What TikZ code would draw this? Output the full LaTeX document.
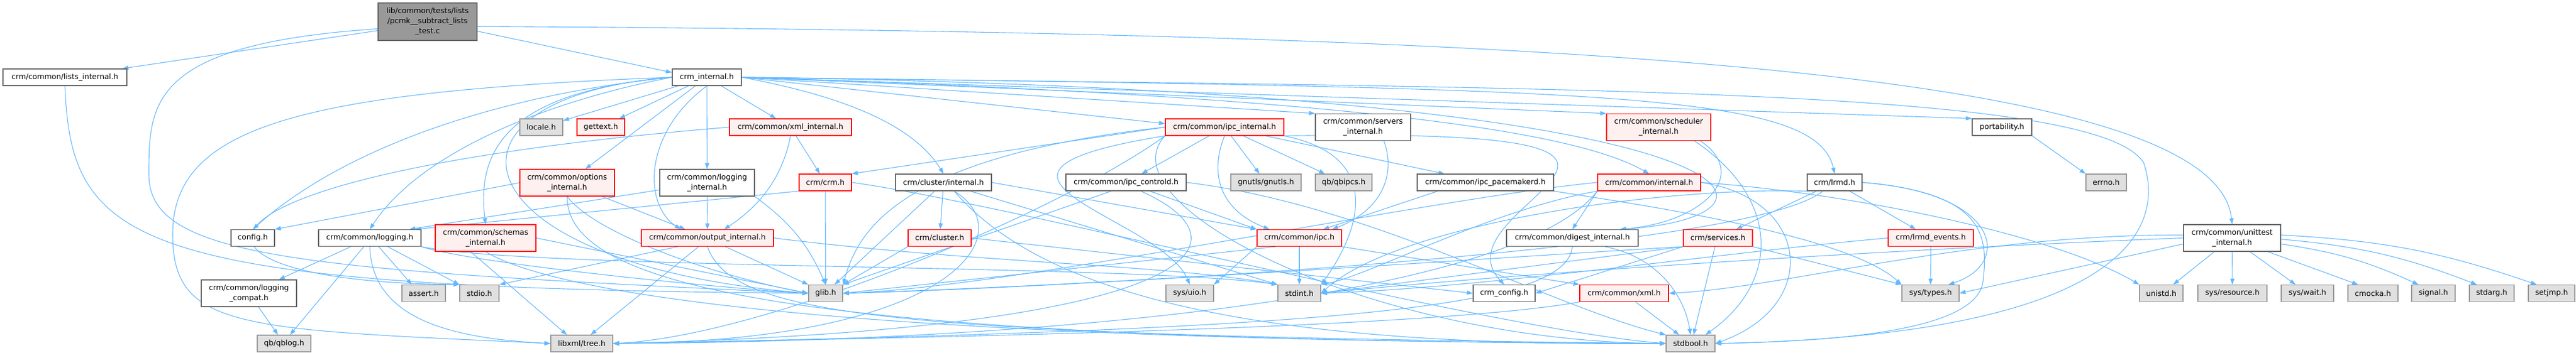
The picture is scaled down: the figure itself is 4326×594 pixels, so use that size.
\documentclass[tikz,border=0pt]{standalone}
\usepackage{fontspec}
\setmainfont{DejaVu Sans}
\usepackage{xcolor}
\usetikzlibrary{arrows.meta,backgrounds}

\definecolor{edgeblue}{HTML}{63B8FF}
\definecolor{redfill}{HTML}{FFF0F0}
\definecolor{extfill}{HTML}{E0E0E0}
\definecolor{extline}{HTML}{999999}
\definecolor{nodeline}{HTML}{666666}

\begin{document}
\begin{tikzpicture}[x=1pt,y=1pt]
    \tikzstyle{N}=[rectangle,draw,line width=1.2pt,inner sep=0pt,minimum height=28pt,align=center,font=\fontsize{12.6}{17}\selectfont]
    \tikzstyle{W}=[N,draw=nodeline,fill=white]
    \tikzstyle{R}=[N,draw=red,fill=redfill]
    \tikzstyle{E}=[N,draw=extline,fill=extfill]
    \tikzstyle{G}=[N,draw=nodeline,fill=extline,minimum height=63pt]
    \tikzstyle{L2}=[minimum height=45pt]
    \tikzstyle{A}=[draw=edgeblue,line width=1.1pt,-{Triangle[length=10pt,width=7pt]}]

    \path[use as bounding box] (0,0) rectangle (4326,594);

    % Files, row by row
    \node [G, minimum width=166pt] (root) at (718,557.5) {lib/common/tests/lists\\/pcmk\_\_subtract\_lists\\\_test.c};

    \node [W, minimum width=208pt] (li) at (109,464) {crm/common/lists\_internal.h};
    \node [W, minimum width=116pt] (ci) at (1187,464) {crm\_internal.h};

    \node [E, minimum width=72pt]  (locale) at (909,380) {locale.h};
    \node [R, minimum width=80pt]  (gettext) at (1009,380) {gettext.h};
    \node [R, minimum width=205pt] (xmlint) at (1327.5,380) {crm/common/xml\_internal.h};
    \node [R, minimum width=199pt] (ipcint) at (2056.5,380) {crm/common/ipc\_internal.h};
    \node [W, L2, minimum width=160pt] (servint) at (2289,380) {crm/common/servers\\\_internal.h};
    \node [R, L2, minimum width=175pt] (schedint) at (2785.5,380) {crm/common/scheduler\\\_internal.h};
    \node [W, minimum width=100pt] (port) at (3362,380) {portability.h};

    \node [R, L2, minimum width=159pt] (optint) at (952.5,286.5) {crm/common/options\\\_internal.h};
    \node [W, L2, minimum width=159pt] (logint) at (1187.5,286.5) {crm/common/logging\\\_internal.h};
    \node [R, minimum width=88pt]  (crmh) at (1386,287) {crm/crm.h};
    \node [W, minimum width=161pt] (clint) at (1584.5,287) {crm/cluster/internal.h};
    \node [W, minimum width=202pt] (ipcctl) at (1891,287) {crm/common/ipc\_controld.h};
    \node [E, minimum width=118pt] (gnutls) at (2126,287) {gnutls/gnutls.h};
    \node [E, minimum width=95pt]  (qbipcs) at (2256.5,287) {qb/qbipcs.h};
    \node [W, minimum width=229pt] (ipcpm) at (2494.5,287) {crm/common/ipc\_pacemakerd.h};
    \node [R, minimum width=173pt] (cmint) at (2769.5,287) {crm/common/internal.h};
    \node [W, minimum width=92pt]  (lrmd) at (3081,287) {crm/lrmd.h};
    \node [E, minimum width=68pt]  (errno) at (3537,287) {errno.h};

    \node [W, minimum width=73pt]  (config) at (424.5,193.5) {config.h};
    \node [W, minimum width=172pt] (logging) at (621,193.5) {crm/common/logging.h};
    \node [R, L2, minimum width=169pt] (schemint) at (815.5,193.5) {crm/common/schemas\\\_internal.h};
    \node [R, minimum width=222pt] (outint) at (1188,193.5) {crm/common/output\_internal.h};
    \node [R, minimum width=106pt] (cluster) at (1578,193.5) {crm/cluster.h};
    \node [R, minimum width=142pt] (ipch) at (2182,193.5) {crm/common/ipc.h};
    \node [W, minimum width=221pt] (digint) at (2640.5,193.5) {crm/common/digest\_internal.h};
    \node [R, minimum width=116pt] (services) at (2885,193.5) {crm/services.h};
    \node [R, minimum width=143pt] (lrmdev) at (3242.5,193.5) {crm/lrmd\_events.h};
    \node [W, L2, minimum width=163pt] (utint) at (3748.5,193.5) {crm/common/unittest\\\_internal.h};

    \node [W, L2, minimum width=160pt] (logcompat) at (418,100.5) {crm/common/logging\\\_compat.h};
    \node [E, minimum width=73pt]  (assert) at (711.5,100.5) {assert.h};
    \node [E, minimum width=66pt]  (stdio) at (805,100.5) {stdio.h};
    \node [E, minimum width=57pt]  (glib) at (1386.5,100.5) {glib.h};
    \node [E, minimum width=80pt]  (sysuio) at (1998,100.5) {sys/uio.h};
    \node [E, minimum width=72pt]  (stdint) at (2182,100.5) {stdint.h};
    \node [W, minimum width=104pt] (crmcfg) at (2526,100.5) {crm\_config.h};
    \node [R, minimum width=149pt] (xmlh) at (2727.5,100.5) {crm/common/xml.h};
    \node [E, minimum width=96pt]  (systypes) at (3242,100.5) {sys/types.h};
    \node [E, minimum width=73pt]  (unistd) at (3629.5,100.5) {unistd.h};
    \node [E, minimum width=116pt] (sysres) at (3749,100.5) {sys/resource.h};
    \node [E, minimum width=88pt]  (syswait) at (3875,100.5) {sys/wait.h};
    \node [E, minimum width=84pt]  (cmocka) at (3985,100.5) {cmocka.h};
    \node [E, minimum width=73pt]  (signal) at (4086.5,100.5) {signal.h};
    \node [E, minimum width=75pt]  (stdarg) at (4184.5,100.5) {stdarg.h};
    \node [E, minimum width=78pt]  (setjmp) at (4285,100.5) {setjmp.h};

    \node [E, minimum width=90pt]  (qblog) at (477,16) {qb/qblog.h};
    \node [E, minimum width=104pt] (tree) at (977,16) {libxml/tree.h};
    \node [E, minimum width=82pt]  (stdbool) at (2839,16) {stdbool.h};

    % Includes, drawn under the boxes
    \begin{pgfonlayer}{background}
    \fill [white] (0,0) rectangle (4326,594);

    \draw [A] ([yshift=-15pt]root.west) -- ([xshift=-8pt]li.north east);
    \draw [A] ([yshift=-16pt]root.east) -- ([yshift=8pt]ci.west);
    \draw [A] ([yshift=-8pt]root.east) .. controls (2600,540) and (3720,480) .. (utint.north);
    \draw [A] ([yshift=-12pt]root.west) .. controls (250,520) and (250,420) .. (250,300) .. controls (250,160) and (500,140) .. (glib.west);
    \draw [A] (li.south) .. controls (120,180) and (220,110) .. (glib.west);

    \draw [A] (ci) -- (locale);
    \draw [A] (ci) -- (gettext);
    \draw [A] (ci) -- (xmlint);
    \draw [A] (ci) -- (optint);
    \draw [A] (ci) -- (logint);
    \draw [A] (ci.south) .. controls (1080,370) and (1080,250) .. ([xshift=-45pt]outint.north);
    \draw [A] (ci.east) -- ([yshift=6pt]ipcint.west);
    \draw [A] (ci.east) -- (servint.north west);
    \draw [A] (ci.east) -- (schedint.north west);
    \draw [A] (ci.east) -- (port.north west);
    \draw [A] (ci.east) .. controls (1400,435) and (1530,390) .. (clint.north);
    \draw [A] (ci.east) .. controls (2300,430) and (2650,370) .. (cmint.north);
    \draw [A] (ci.east) .. controls (2700,445) and (3050,440) .. (lrmd.north);
    \draw [A] (ci.east) .. controls (3000,440) and (3050,230) .. ([xshift=80pt]digint.north);
    \draw [A] (ci.east) .. controls (2600,445) and (3520,450) .. (3600,320) .. controls (3640,200) and (3550,30) .. (stdbool.east);
    \draw [A] (ci.west) .. controls (800,430) and (560,330) .. (config.north);
    \draw [A] (ci.west) .. controls (900,420) and (700,330) .. (logging.north);
    \draw [A] (ci.west) .. controls (850,440) and (800,340) .. (schemint.north);
    \draw [A] (ci.west) .. controls (700,430) and (760,150) .. (glib.west);
    \draw [A] (ci.west) .. controls (500,440) and (290,380) .. (290,200) .. controls (290,40) and (400,40) .. (tree.west);

    \draw [A] (xmlint) -- (crmh);
    \draw [A] (xmlint.south) .. controls (1315,300) and (1280,250) .. ([xshift=28pt]outint.north);
    \draw [A] (xmlint.west) .. controls (250,300) and (250,120) .. (stdio.north west);

    \draw [A] (optint) -- (outint);
    \draw [A] (optint.south) .. controls (1000,200) and (1200,130) .. (glib.west);
    \draw [A] (optint.south) .. controls (950,100) and (1400,20) .. (stdbool.west);
    \draw [A] (optint.west) -- (config.north east);

    \draw [A] (logint) -- (outint);
    \draw [A] (logint.south east) to[bend left=15] (glib.north);
    \draw [A] ([yshift=-12pt]logint.west) -- ([xshift=-20pt]logging.north east);

    \draw [A] (crmh) -- (glib);
    \draw [A] (crmh.south west) -- ([xshift=-10pt]logging.north east);
    \draw [A] (crmh.east) .. controls (1700,250) and (2500,40) .. (stdbool.west);

    \draw [A] ([xshift=-50pt]outint.south) -- (stdio.north east);
    \draw [A] ([xshift=-15pt]outint.south) -- ([xshift=15pt]tree.north);
    \draw [A] ([xshift=30pt]outint.south) -- (glib.north west);
    \draw [A] (outint.south) .. controls (1230,60) and (1500,30) .. (stdbool.west);
    \draw [A] (outint.east) .. controls (1650,150) and (1950,150) .. (stdint.north west);

    \draw [A] ([xshift=-25pt]schemint.south) -- ([xshift=-25pt]tree.north);
    \draw [A] (schemint.south) .. controls (950,90) and (1500,20) .. (stdbool.west);
    \draw [A] (schemint.east) -- (glib.west);

    \draw [A] (logging) -- (logcompat);
    \draw [A] ([xshift=-10pt]logging.south) -- ([xshift=10pt]qblog.north);
    \draw [A] ([xshift=15pt]logging.south) -- ([xshift=-20pt]assert.north);
    \draw [A] ([xshift=30pt]logging.south) -- (stdio.north west);
    \draw [A] (logging.south) .. controls (625,60) and (750,25) .. (tree.west);
    \draw [A] (logging.south east) .. controls (800,150) and (1200,110) .. (glib.west);
    \draw [A] (logging.south east) .. controls (900,140) and (1900,150) .. (stdint.north west);
    \draw [A] (logcompat) -- (qblog);

    \draw [A] (clint) -- (cluster);
    \draw [A] ([xshift=-15pt]clint.south) -- ([xshift=15pt]glib.north);
    \draw [A] ([xshift=18pt]clint.south) .. controls (1720,200) and (1600,20) .. (tree.east);
    \draw [A] ([xshift=18pt]clint.south) .. controls (1750,100) and (2100,10) .. (stdbool.west);
    \draw [A] ([xshift=45pt]clint.south) -- (stdint.north west);
    \draw [A] (clint.east) -- (ipch.north west);
    \draw [A] (cluster.south west) -- (glib.north east);
    \draw [A] (cluster.east) -- (crmcfg.west);

    \draw [A] (ipcint) -- (ipcctl);
    \draw [A] (ipcint.south) .. controls (2030,300) and (2050,240) .. ([xshift=-50pt]ipch.north);
    \draw [A] (ipcint) -- (gnutls);
    \draw [A] (ipcint) -- (qbipcs);
    \draw [A] (ipcint) -- (ipcpm);
    \draw [A] (ipcint.south west) .. controls (1550,300) and (1950,230) .. (sysuio.north);
    \draw [A] (ipcint.south east) .. controls (2330,330) and (2280,200) .. (stdint.north east);
    \draw [A] (ipcint.south east) .. controls (3000,380) and (2400,250) .. (crmcfg.north);
    \draw [A] (ipcint.south west) .. controls (1850,250) and (2300,20) .. (stdbool.west);
    \draw [A] (ipcint.west) .. controls (1500,330) and (1440,200) .. (glib.north east);
    \draw [A] (ipcint.south west) .. controls (1800,250) and (1300,30) .. (tree.east);
    \draw [A] (ipcint.west) -- (crmh.north east);

    \draw [A] ([xshift=40pt]ipcctl.south) -- (ipch.north west);
    \draw [A] ([xshift=-25pt]ipcctl.south) -- (glib.north east);
    \draw [A] ([xshift=25pt]ipcctl.south) .. controls (2120,180) and (2000,40) .. (tree.east);
    \draw [A] (ipcctl.east) .. controls (2300,250) and (2600,80) .. (stdbool.north west);
    \draw [A] ([xshift=-80pt]ipcpm.south) -- ([xshift=40pt]ipch.north);
    \draw [A] (ipcpm.south east) .. controls (2750,250) and (3100,200) .. (systypes.north west);
    \draw [A] ([xshift=35pt]servint.south) .. controls (2345,300) and (2320,240) .. ([xshift=55pt]ipch.north);

    \draw [A] (ipch.south west) -- (sysuio.north east);
    \draw [A] (ipch) -- (stdint);
    \draw [A] (ipch.south east) -- (xmlh.north west);
    \draw [A] ([xshift=-40pt]ipch.south) -- (glib.east);
    \draw [A] (xmlh) -- (stdbool);
    \draw [A] (xmlh.south west) .. controls (2400,40) and (1500,25) .. (tree.east);
    \draw [A] ([xshift=55pt]digint.south) .. controls (2790,160) and (2830,90) .. (stdbool.north);
    \draw [A] (digint.south) .. controls (2630,80) and (2300,40) .. (tree.east);

    \draw [A] ([xshift=70pt]schedint.south) .. controls (2940,300) and (2860,220) .. ([xshift=80pt]digint.north);
    \draw [A] ([xshift=60pt]schedint.south) .. controls (2990,260) and (2990,120) .. ([xshift=25pt]stdbool.north);

    \draw [A] (cmint.south west) -- (digint.north);
    \draw [A] (cmint.east) .. controls (3100,270) and (3450,200) .. (unistd.north west);
    \draw [A] (cmint.east) .. controls (3040,260) and (3060,80) .. (stdbool.east);
    \draw [A] (cmint.south west) .. controls (2500,240) and (2300,130) .. (stdint.north east);
    \draw [A] (cmint.west) .. controls (2400,260) and (1700,110) .. (glib.east);
    \draw [A] (cmint.south west) .. controls (2550,100) and (1800,20) .. (tree.east);

    \draw [A] (lrmd) -- (services);
    \draw [A] (lrmd) -- (lrmdev);
    \draw [A] (lrmd.east) .. controls (3360,270) and (3380,150) .. ([xshift=30pt]systypes.north);
    \draw [A] (lrmd.east) .. controls (3330,270) and (3340,200) .. (3330,120) .. controls (3320,40) and (3100,20) .. (stdbool.east);
    \draw [A] ([xshift=-20pt]lrmd.south) .. controls (2950,180) and (2000,120) .. (glib.east);
    \draw [A] (lrmd.south west) .. controls (2800,280) and (2350,220) .. (stdint.east);

    \draw [A] ([xshift=-5pt]services.south) -- ([xshift=5pt]stdbool.north);
    \draw [A] (services.south east) -- (systypes.north west);
    \draw [A] (services.south west) -- (stdint.east);
    \draw [A] (services.south west) -- (crmcfg.east);
    \draw [A] (services.south west) .. controls (2500,160) and (1800,110) .. (glib.east);
    \draw [A] (lrmdev) -- (systypes);
    \draw [A] (lrmdev.west) .. controls (2900,170) and (2500,110) .. (stdint.east);
    \draw [A] (port.south east) -- (errno.north west);

    \draw [A] ([xshift=-30pt]utint.south) -- ([xshift=20pt]unistd.north);
    \draw [A] (utint) -- (sysres);
    \draw [A] ([xshift=30pt]utint.south) -- ([xshift=-20pt]syswait.north);
    \draw [A] ([xshift=60pt]utint.south) -- ([xshift=-25pt]cmocka.north);
    \draw [A] ([yshift=-10pt]utint.east) to[bend left=8] ([xshift=-25pt]signal.north);
    \draw [A] ([yshift=-2pt]utint.east) to[bend left=8] ([xshift=-25pt]stdarg.north);
    \draw [A] ([yshift=5pt]utint.east) to[bend left=8] ([xshift=-25pt]setjmp.north);
    \draw [A] ([yshift=-10pt]utint.west) -- (systypes.east);
    \draw [A] (utint.west) .. controls (3300,180) and (2600,140) .. (stdint.east);
    \draw [A] ([yshift=5pt]utint.west) .. controls (3300,200) and (3000,110) .. (xmlh.east);
    \end{pgfonlayer}
\end{tikzpicture}
\end{document}
